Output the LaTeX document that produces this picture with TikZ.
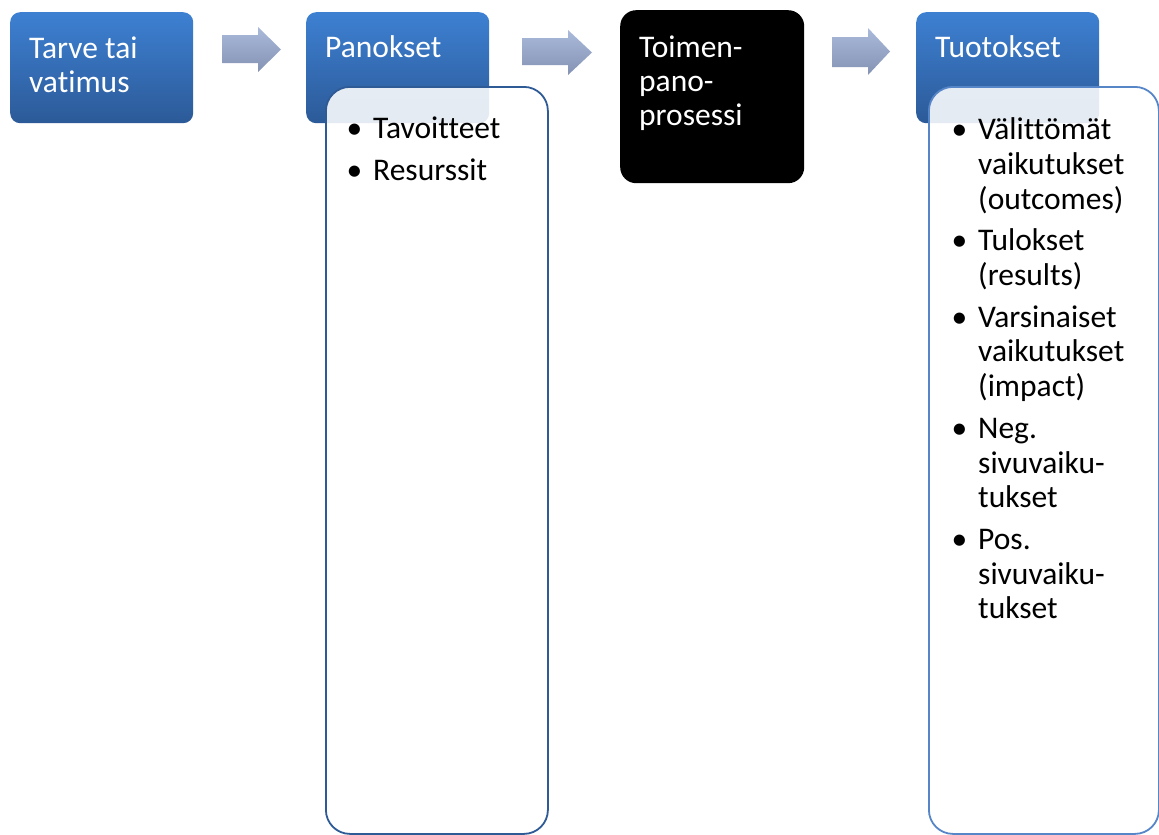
\documentclass[tikz,border=0pt]{standalone}
\usepackage{fontspec}
\setmainfont{Carlito}[Ligatures=NoCommon]

\definecolor{boxtop}{HTML}{3D80D2}
\definecolor{boxbot}{HTML}{2C5A98}
\definecolor{arrtop}{HTML}{AABADA}
\definecolor{arrbot}{HTML}{8492B4}
\definecolor{paneldark}{HTML}{2E5A96}
\definecolor{panellight}{HTML}{5686C8}

% one bullet item: bullet hung to the left of the text
\newcommand{\bitem}[1]{\par\noindent\llap{\textbullet\hspace{11pt}}#1}

\begin{document}
\begin{tikzpicture}[x=1pt,y=1pt,
  titlebox/.style={rounded corners=10pt, top color=boxtop, bottom color=boxbot,
    draw=none, minimum width=183pt, minimum height=111pt, anchor=north west, inner sep=0pt},
  procbox/.style={rounded corners=16pt, fill=black, draw=none,
    minimum width=184pt, minimum height=173pt, anchor=north west, inner sep=0pt},
  panel/.style={rounded corners=24pt, fill=white, fill opacity=0.88, line width=1.8pt,
    anchor=north west, inner sep=0pt, minimum height=747pt},
  blockarrow/.style={top color=arrtop, bottom color=arrbot, draw=none},
  title/.style={anchor=base west, inner sep=0pt, text=white, align=left,
    font=\fontsize{31.5}{34}\selectfont},
  listtext/.style={anchor=base west, inner sep=0pt, text width=190pt,
    font=\fontsize{31.5}{34.7}\selectfont\setlength{\parskip}{7pt}}
]
\useasboundingbox (0,0) rectangle (1159,-835);

% stage boxes
\node[titlebox] (need) at (10,-12) {};
\node[titlebox] (inputs) at (306,-12) {};
\node[procbox] (process) at (620,-10) {};
\node[titlebox] (outputs) at (916,-12) {};

% detail panels laid over the stage boxes
\node[panel, draw=paneldark, minimum width=222pt] (inputsPanel) at (325,-86) {};
\node[panel, draw=panellight, minimum width=230pt] (outputsPanel) at (928,-86) {};

% block arrows between the stages
\shade[blockarrow] (222,-35) -- (258,-35) -- (258,-27) -- (281,-49.5)
  -- (258,-72) -- (258,-63) -- (222,-63) -- cycle;
\shade[blockarrow] (522,-38) -- (568,-38) -- (568,-30) -- (592,-52.5)
  -- (568,-75) -- (568,-65) -- (522,-65) -- cycle;
\shade[blockarrow] (832,-37) -- (868,-37) -- (868,-28) -- (890,-51.5)
  -- (868,-75) -- (868,-67) -- (832,-67) -- cycle;

% titles (anchored at the baseline of their last line)
\node[title] (needText) at (29,-92) {Tarve tai\\vatimus};
\node[title] (inputsText) at (325,-57) {Panokset};
\node[title] (processText) at (639,-125) {Toimen-\\pano-\\prosessi};
\node[title] (outputsText) at (935,-57) {Tuotokset};

% lists
\node[listtext] (inputsList) at (373,-97) {%
  \bitem{Tavoitteet}
  \bitem{Resurssit}};
\node[listtext] (outputsList) at (978,-98) {%
  \bitem{Välittömät\\vaikutukset\\(outcomes)}
  \bitem{Tulokset\\(results)}
  \bitem{Varsinaiset\\vaikutukset\\(impact)}
  \bitem{Neg.\\sivuvaiku-\\tukset}
  \bitem{Pos.\\sivuvaiku-\\tukset}};
\end{tikzpicture}
\end{document}
